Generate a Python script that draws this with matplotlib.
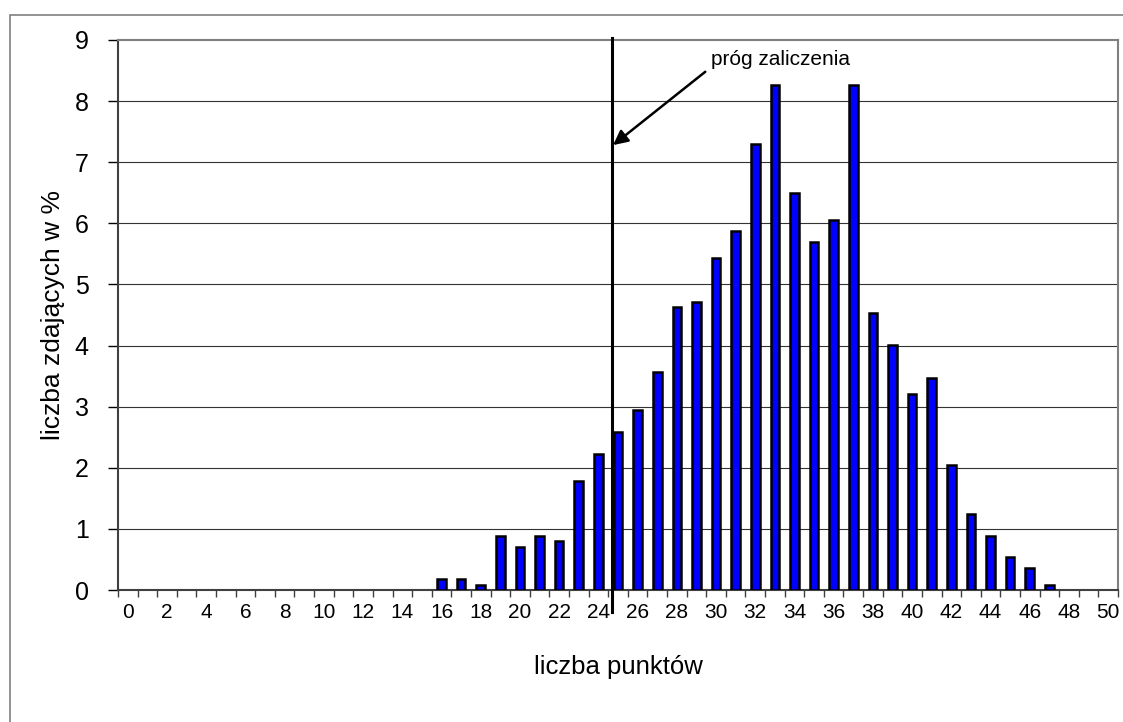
import matplotlib
matplotlib.use("Agg")
import matplotlib.pyplot as plt
from matplotlib.patches import Rectangle

plt.rcParams['font.family'] = ['Liberation Sans', 'DejaVu Sans']

# Data
scores = list(range(0, 51))
percent = [0]*16 + [0.18, 0.18, 0.09, 0.89, 0.71, 0.89, 0.80, 1.78, 2.22,
                    2.58, 2.94, 3.56, 4.63, 4.71, 5.43, 5.88, 7.30, 8.27,
                    6.50, 5.70, 6.05, 8.27, 4.53, 4.01, 3.20, 3.47, 2.05,
                    1.24, 0.89, 0.54, 0.36, 0.09, 0, 0, 0]
threshold = 24.7
y_ticks = list(range(0, 10))
x_labels = list(range(0, 51, 2))
annotation_text = "próg zaliczenia"

fig = plt.figure(figsize=(11.23, 7.22), dpi=100)
ax = fig.add_axes([118/1123, 1-590/722, 1000/1123, 550/722])

# outer chart frame
fig.patches.append(Rectangle((10/1123, -0.1), 1.2, (722-15)/722 + 0.1,
                             transform=fig.transFigure, fill=False,
                             edgecolor='#808080', linewidth=1.2))

ax.set_xlim(-0.5, 50.5)
ax.set_ylim(0, 9)

for y in y_ticks[1:-1]:
    ax.axhline(y, color='#333333', linewidth=0.8, zorder=1)

nz_x = [s for s, p in zip(scores, percent) if p > 0]
nz_y = [p for p in percent if p > 0]
ax.bar(nz_x, nz_y, width=0.44, color='#0000FF', edgecolor='black',
       linewidth=1.8, zorder=3)

# threshold line
ax.plot([threshold, threshold], [-0.36, 9.04], color='black', linewidth=2.2,
        clip_on=False, zorder=4)

ax.annotate('', xy=(threshold + 0.05, 7.28), xytext=(29.45, 8.48),
            arrowprops=dict(arrowstyle='-|>', color='black', lw=1.8,
                            mutation_scale=22, shrinkA=0, shrinkB=0),
            zorder=5)
ax.text(33.3, 8.68, annotation_text, fontsize=15, ha='center', va='center')

# ticks
ax.set_yticks(y_ticks)
ax.set_yticklabels([str(v) for v in y_ticks], fontsize=18)
ax.set_xticks([i - 0.5 for i in range(0, 52)])
ax.set_xticklabels([])
ax.set_xticks(x_labels, minor=True)
ax.set_xticklabels([str(v) for v in x_labels], minor=True, fontsize=15)
ax.tick_params(axis='x', which='minor', length=0, pad=9)
ax.tick_params(axis='x', which='major', length=5, width=1, color='#404040', direction='out')
ax.tick_params(axis='y', length=7, width=1, direction='out', pad=14)

for s in ['top', 'right']:
    ax.spines[s].set_color('#808080')
    ax.spines[s].set_linewidth(1.5)
for s in ['left', 'bottom']:
    ax.spines[s].set_color('#404040')
    ax.spines[s].set_linewidth(1.5)

ax.set_ylabel('liczba zdających w %', fontsize=19, labelpad=7)
ax.set_xlabel('liczba punktów', fontsize=18.5, labelpad=24)

fig.savefig('out.png', dpi=100)
